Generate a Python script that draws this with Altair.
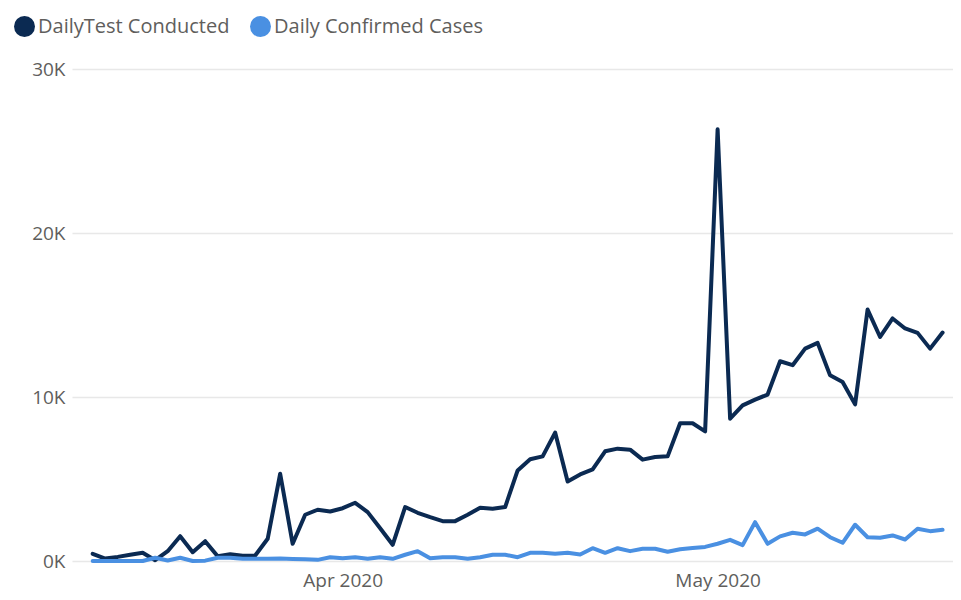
import altair as alt
import pandas as pd

start_date = "2020-03-12"
n_days = 69

tests = [440, 150, 250, 380, 500, 50, 600, 1510, 540, 1210,
         290, 415, 320, 335, 1355, 5320, 1050, 2820, 3125, 3020,
         3220, 3550, 2980, 2000, 990, 3290, 2940, 2670, 2430, 2430,
         2820, 3250, 3190, 3290, 5525, 6200, 6380, 7830, 4850, 5280,
         5590, 6690, 6850, 6790, 6180, 6340, 6380, 8400, 8400, 7900,
         26320, 8680, 9490, 9840, 10150, 12180, 11940, 12950, 13300, 11320,
         10920, 9550, 15330, 13660, 14790, 14180, 13910, 12950, 13930]

cases = [0, 0, 0, 0, 0, 200, 30, 200, 0, 20,
         200, 200, 135, 135, 130, 150, 120, 100, 70, 230,
         170, 230, 135, 230, 135, 380, 600, 170, 230, 230,
         135, 230, 380, 380, 230, 500, 500, 440, 500, 400,
         780, 500, 780, 600, 745, 745, 560, 720, 790, 860,
         1050, 1290, 970, 2370, 1050, 1500, 1720, 1620, 1970, 1450,
         1110, 2210, 1450, 1420, 1560, 1310, 1970, 1820, 1900]

series_names = ["DailyTest Conducted", "Daily Confirmed Cases"]
series_colors = ["#0b2a52", "#4a90e2"]
y_ticks = [0, 10000, 20000, 30000]

dates = pd.date_range(start_date, periods=n_days, freq="D").strftime("%Y-%m-%d").tolist()
rows = []
for d, t, c in zip(dates, tests, cases):
    rows.append({"date": d, "series": series_names[0], "value": t})
    rows.append({"date": d, "series": series_names[1], "value": c})
df = pd.DataFrame(rows)

FONT = "Open Sans"
GREY = "#605e5c"

x_enc = alt.X(
    "date:T",
    scale=alt.Scale(
        type="utc",
        domain=[
            alt.DateTime(year=2020, month=3, date=10, hours=8, minutes=15, utc=True),
            alt.DateTime(year=2020, month=5, date=19, hours=20, utc=True),
        ],
    ),
    axis=alt.Axis(
        title=None,
        values=[
            alt.DateTime(year=2020, month=4, date=1, utc=True),
            alt.DateTime(year=2020, month=5, date=1, utc=True),
        ],
        format="%b %Y",
        grid=False,
        domain=False,
        ticks=False,
        labelFont=FONT,
        labelFontSize=19,
        labelColor=GREY,
        labelPadding=10,
    ),
)
y_enc = alt.Y(
    "value:Q",
    scale=alt.Scale(domain=[0, 30000], nice=False),
    axis=alt.Axis(
        title=None,
        values=y_ticks,
        labelExpr="datum.value / 1000 + 'K'",
        domain=False,
        ticks=False,
        gridColor="#e8e8e8",
        gridWidth=1.5,
        labelFont=FONT,
        labelFontSize=19,
        labelColor=GREY,
        labelPadding=7,
    ),
)
color_scale = alt.Scale(domain=series_names, range=series_colors)
legend = alt.Legend(
    title=None,
    orient="none",
    legendX=-58,
    legendY=-53,
    direction="horizontal",
    symbolType="circle",
    symbolSize=440,
    symbolStrokeWidth=0,
    symbolOpacity=1,
    labelFont=FONT,
    labelFontSize=20,
    labelColor=GREY,
    labelLimit=400,
    labelOffset=3,
    columnPadding=20,
)

legend_pts = alt.Chart(df).mark_point(filled=True, size=0).encode(
    x=x_enc,
    y=y_enc,
    color=alt.Color("series:N", scale=color_scale, legend=legend),
)

lines = alt.Chart(df).mark_line(strokeWidth=4, strokeJoin="round", strokeCap="round").encode(
    x=x_enc,
    y=y_enc,
    color=alt.Color("series:N", scale=color_scale, legend=legend),
    order=alt.Order("date:T"),
)

chart = alt.layer(legend_pts, lines).properties(
    width=881,
    height=492,
    autosize="none",
    padding={"left": 64, "top": 61, "right": 0, "bottom": 31},
).configure_view(stroke=None)

chart.save("out.html", embed_options={"renderer": "svg", "actions": False})
